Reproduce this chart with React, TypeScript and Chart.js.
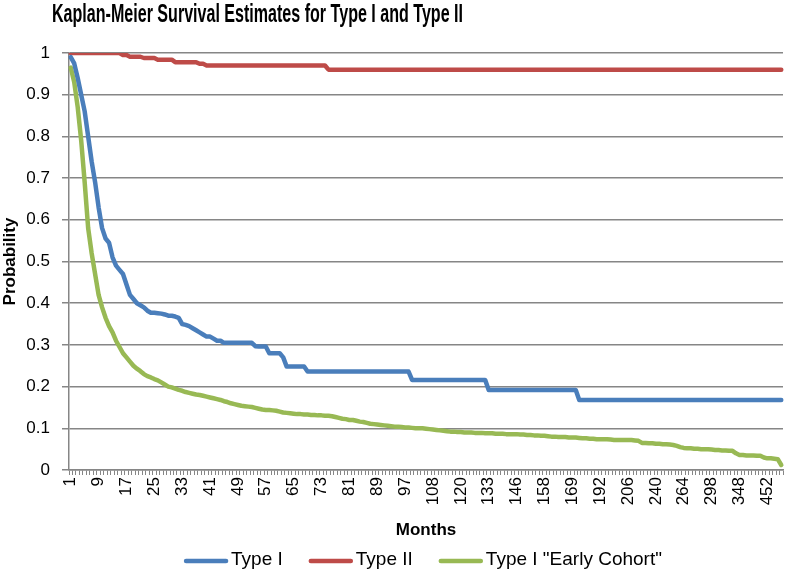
import { useEffect, useRef } from 'react';
import { Chart, registerables } from 'chart.js';

Chart.register(...registerables);

const TITLE = 'Kaplan-Meier Survival Estimates for Type I and Type II';
const X_TITLE = 'Months';
const Y_TITLE = 'Probability';
const SERIES_NAMES = ['Type I', 'Type II', 'Type I "Early Cohort"'];
const SERIES_COLORS = ['#4a7ebb', '#be4b48', '#98b954'];

const months = [
  1, 2, 3, 4, 5, 6, 7, 8, 9, 10,
  11, 12, 13, 14, 15, 16, 17, 18, 19, 20,
  21, 22, 23, 24, 25, 26, 27, 28, 29, 30,
  31, 32, 33, 34, 35, 36, 37, 38, 39, 40,
  41, 42, 43, 44, 45, 46, 47, 48, 49, 50,
  51, 52, 53, 54, 55, 56, 57, 58, 59, 60,
  61, 62, 63, 64, 65, 66, 67, 68, 69, 70,
  71, 72, 73, 74, 75, 76, 77, 78, 79, 80,
  81, 82, 83, 84, 85, 86, 87, 88, 89, 90,
  91, 92, 93, 94, 95, 96, 97, 98, 99, 101,
  102, 104, 105, 107, 108, 109, 111, 112, 114, 115,
  117, 118, 120, 121, 123, 125, 126, 128, 130, 131,
  133, 135, 136, 138, 140, 141, 143, 144, 146, 147,
  149, 150, 152, 153, 155, 156, 158, 159, 161, 162,
  163, 165, 166, 168, 169, 172, 175, 178, 180, 183,
  186, 189, 192, 193, 195, 197, 199, 200, 202, 204,
  206, 210, 214, 219, 223, 227, 231, 236, 240, 243,
  246, 249, 252, 255, 258, 261, 264, 268, 272, 276,
  281, 285, 289, 294, 298, 304, 310, 316, 323, 329,
  335, 342, 348, 361, 374, 387, 400, 413, 426, 439,
  452, 467, 481, 495, 510,
];

const typeI = [
  0.99, 0.975, 0.94, 0.9, 0.86, 0.8, 0.74, 0.69, 0.63, 0.58,
  0.555, 0.545, 0.51, 0.49, 0.48, 0.47, 0.445, 0.42, 0.41, 0.4,
  0.395, 0.39, 0.382, 0.377, 0.377, 0.376, 0.375, 0.373, 0.37, 0.37,
  0.368, 0.365, 0.35, 0.348, 0.345, 0.34, 0.335, 0.33, 0.325, 0.32,
  0.32, 0.315, 0.31, 0.31, 0.305, 0.305, 0.305, 0.305, 0.305, 0.305,
  0.305, 0.305, 0.305, 0.297, 0.296, 0.296, 0.296, 0.28, 0.28, 0.28,
  0.28, 0.27, 0.248, 0.248, 0.248, 0.248, 0.248, 0.248, 0.236, 0.236,
  0.236, 0.236, 0.236, 0.236, 0.236, 0.236, 0.236, 0.236, 0.236, 0.236,
  0.236, 0.236, 0.236, 0.236, 0.236, 0.236, 0.236, 0.236, 0.236, 0.236,
  0.236, 0.236, 0.236, 0.236, 0.236, 0.236, 0.236, 0.236, 0.216, 0.216,
  0.216, 0.216, 0.216, 0.216, 0.216, 0.216, 0.216, 0.216, 0.216, 0.216,
  0.216, 0.216, 0.216, 0.216, 0.216, 0.216, 0.216, 0.216, 0.216, 0.216,
  0.192, 0.192, 0.192, 0.192, 0.192, 0.192, 0.192, 0.192, 0.192, 0.192,
  0.192, 0.192, 0.192, 0.192, 0.192, 0.192, 0.192, 0.192, 0.192, 0.192,
  0.192, 0.192, 0.192, 0.192, 0.192, 0.192, 0.168, 0.168, 0.168, 0.168,
  0.168, 0.168, 0.168, 0.168, 0.168, 0.168, 0.168, 0.168, 0.168, 0.168,
  0.168, 0.168, 0.168, 0.168, 0.168, 0.168, 0.168, 0.168, 0.168, 0.168,
  0.168, 0.168, 0.168, 0.168, 0.168, 0.168, 0.168, 0.168, 0.168, 0.168,
  0.168, 0.168, 0.168, 0.168, 0.168, 0.168, 0.168, 0.168, 0.168, 0.168,
  0.168, 0.168, 0.168, 0.168, 0.168, 0.168, 0.168, 0.168, 0.168, 0.168,
  0.168, 0.168, 0.168, 0.168, 0.168,
];

const typeII = [
  1, 1, 1, 1, 1, 1, 1, 1, 1, 1,
  1, 1, 1, 1, 1, 0.995, 0.995, 0.991, 0.991, 0.991,
  0.991, 0.988, 0.988, 0.988, 0.988, 0.984, 0.984, 0.984, 0.984, 0.984,
  0.978, 0.978, 0.978, 0.978, 0.978, 0.978, 0.978, 0.974, 0.974, 0.97,
  0.97, 0.97, 0.97, 0.97, 0.97, 0.97, 0.97, 0.97, 0.97, 0.97,
  0.97, 0.97, 0.97, 0.97, 0.97, 0.97, 0.97, 0.97, 0.97, 0.97,
  0.97, 0.97, 0.97, 0.97, 0.97, 0.97, 0.97, 0.97, 0.97, 0.97,
  0.97, 0.97, 0.97, 0.97, 0.96, 0.96, 0.96, 0.96, 0.96, 0.96,
  0.96, 0.96, 0.96, 0.96, 0.96, 0.96, 0.96, 0.96, 0.96, 0.96,
  0.96, 0.96, 0.96, 0.96, 0.96, 0.96, 0.96, 0.96, 0.96, 0.96,
  0.96, 0.96, 0.96, 0.96, 0.96, 0.96, 0.96, 0.96, 0.96, 0.96,
  0.96, 0.96, 0.96, 0.96, 0.96, 0.96, 0.96, 0.96, 0.96, 0.96,
  0.96, 0.96, 0.96, 0.96, 0.96, 0.96, 0.96, 0.96, 0.96, 0.96,
  0.96, 0.96, 0.96, 0.96, 0.96, 0.96, 0.96, 0.96, 0.96, 0.96,
  0.96, 0.96, 0.96, 0.96, 0.96, 0.96, 0.96, 0.96, 0.96, 0.96,
  0.96, 0.96, 0.96, 0.96, 0.96, 0.96, 0.96, 0.96, 0.96, 0.96,
  0.96, 0.96, 0.96, 0.96, 0.96, 0.96, 0.96, 0.96, 0.96, 0.96,
  0.96, 0.96, 0.96, 0.96, 0.96, 0.96, 0.96, 0.96, 0.96, 0.96,
  0.96, 0.96, 0.96, 0.96, 0.96, 0.96, 0.96, 0.96, 0.96, 0.96,
  0.96, 0.96, 0.96, 0.96, 0.96, 0.96, 0.96, 0.96, 0.96, 0.96,
  0.96, 0.96, 0.96, 0.96, 0.96,
];

const typeIEarly = [
  0.965, 0.93, 0.87, 0.79, 0.69, 0.58, 0.52, 0.47, 0.42, 0.39,
  0.365, 0.345, 0.33, 0.31, 0.295, 0.28, 0.27, 0.26, 0.25, 0.243,
  0.237, 0.23, 0.225, 0.222, 0.218, 0.215, 0.21, 0.205, 0.2, 0.198,
  0.195, 0.192, 0.19, 0.187, 0.185, 0.183, 0.181, 0.18, 0.178, 0.176,
  0.174, 0.172, 0.17, 0.168, 0.165, 0.163, 0.16, 0.158, 0.156, 0.154,
  0.153, 0.152, 0.151, 0.149, 0.147, 0.145, 0.144, 0.144, 0.143, 0.142,
  0.14, 0.138, 0.137, 0.136, 0.135, 0.134, 0.134, 0.133, 0.133, 0.132,
  0.132, 0.131, 0.131, 0.13, 0.13, 0.129, 0.127, 0.125, 0.123, 0.122,
  0.12, 0.12, 0.118, 0.116, 0.115, 0.113, 0.111, 0.11, 0.109, 0.108,
  0.107, 0.106, 0.105, 0.104, 0.104, 0.103, 0.102, 0.102, 0.101, 0.1,
  0.1, 0.1, 0.099, 0.098, 0.097, 0.096, 0.095, 0.094, 0.093, 0.092,
  0.092, 0.091, 0.091, 0.09, 0.09, 0.09, 0.089, 0.089, 0.089, 0.088,
  0.088, 0.088, 0.087, 0.087, 0.087, 0.086, 0.086, 0.086, 0.086, 0.085,
  0.085, 0.084, 0.084, 0.083, 0.083, 0.082, 0.082, 0.081, 0.08, 0.08,
  0.079, 0.079, 0.079, 0.078, 0.078, 0.078, 0.077, 0.076, 0.076, 0.075,
  0.075, 0.074, 0.074, 0.074, 0.074, 0.073, 0.072, 0.072, 0.072, 0.072,
  0.072, 0.072, 0.071, 0.07, 0.065, 0.065, 0.064, 0.064, 0.063, 0.063,
  0.062, 0.062, 0.061, 0.06, 0.058, 0.055, 0.053, 0.052, 0.052, 0.051,
  0.051, 0.05, 0.05, 0.05, 0.049, 0.048, 0.048, 0.047, 0.047, 0.046,
  0.046, 0.04, 0.036, 0.036, 0.035, 0.035, 0.035, 0.034, 0.034, 0.03,
  0.028, 0.028, 0.027, 0.026, 0.012,
];

const LABEL_EVERY = 8;
const GRID = '#868686';
const TICK_FONT = '"Liberation Sans", Arial, sans-serif';

const titlePlugin = {
  id: 'kmTitle',
  afterDraw(chart: any) {
    const ctx = chart.ctx;
    ctx.save();
    ctx.font = 'bold 25px "Liberation Sans Narrow", "Liberation Sans", Arial, sans-serif';
    const w = ctx.measureText(TITLE).width;
    const target = 411;
    ctx.translate(257.5, 22);
    ctx.scale(target / w, 1);
    ctx.textAlign = 'center';
    ctx.textBaseline = 'alphabetic';
    ctx.fillStyle = '#000';
    ctx.fillText(TITLE, 0, 0);
    ctx.restore();
  },
};

const legendPlugin = {
  id: 'kmLegend',
  afterDraw(chart: any) {
    const ctx = chart.ctx;
    ctx.save();
    ctx.font = '19px "Liberation Sans", Arial, sans-serif';
    const items = chart.data.datasets.map((ds: any) => ({
      label: ds.label,
      color: ds.borderColor,
      w: ctx.measureText(ds.label).width,
    }));
    const seg = 44;
    const gapA = 3;
    const gapB = 26;
    const total =
      items.reduce((s: number, it: any) => s + seg + gapA + it.w, 0) + gapB * (items.length - 1);
    let x = (chart.chartArea.left + chart.chartArea.right) / 2 - total / 2 - 3;
    const yLine = chart.height - 14;
    const yText = chart.height - 10;
    items.forEach((it: any) => {
      ctx.strokeStyle = it.color;
      ctx.lineWidth = 4.5;
      ctx.lineCap = 'round';
      ctx.beginPath();
      ctx.moveTo(x + 2, yLine);
      ctx.lineTo(x + seg - 2, yLine);
      ctx.stroke();
      x += seg + gapA;
      ctx.fillStyle = '#000';
      ctx.textAlign = 'left';
      ctx.textBaseline = 'alphabetic';
      ctx.fillText(it.label, x, yText);
      x += it.w + gapB;
    });
    ctx.restore();
  },
};

export default function App() {
  const ref = useRef<HTMLCanvasElement | null>(null);

  useEffect(() => {
    document.body.style.margin = '0';
    const canvas = ref.current;
    if (!canvas) return;
    const seriesData = [typeI, typeII, typeIEarly];
    const chart = new Chart(canvas, {
      type: 'line',
      data: {
        labels: months.map(String),
        datasets: seriesData.map((d, i) => ({
          label: SERIES_NAMES[i],
          data: d,
          borderColor: SERIES_COLORS[i],
          backgroundColor: SERIES_COLORS[i],
          borderWidth: 4.5,
          pointRadius: 0,
          pointHoverRadius: 0,
          tension: 0,
          fill: false,
          borderJoinStyle: 'round',
          borderCapStyle: 'round',
        })),
      },
      options: {
        animation: false,
        responsive: false,
        devicePixelRatio: 1,
        layout: { padding: { top: 53, right: 4, bottom: 30, left: 0 } },
        plugins: {
          legend: { display: false },
          title: { display: false },
          tooltip: { enabled: false },
        },
        scales: {
          x: {
            type: 'category',
            offset: true,
            ticks: {
              autoSkip: false,
              minRotation: 90,
              maxRotation: 90,
              padding: 2,
              color: '#000',
              font: { family: TICK_FONT, size: 17 },
              callback: (_v: any, i: number) => (i % LABEL_EVERY === 0 ? String(months[i]) : ''),
            },
            grid: {
              display: true,
              drawOnChartArea: false,
              drawTicks: true,
              tickLength: 5,
              color: GRID,
              offset: true,
            },
            border: { display: true, color: GRID, width: 1.5 },
            title: {
              display: true,
              text: X_TITLE,
              color: '#000',
              font: { family: TICK_FONT, size: 17, weight: 'bold' },
              padding: { top: 0, bottom: 4.4 },
            },
            afterFit: (s: any) => {
              s.height = 75;
              s.paddingLeft = 0;
              s.paddingRight = 0;
            },
          },
          y: {
            min: 0,
            max: 1,
            ticks: {
              stepSize: 0.1,
              color: '#000',
              padding: 12,
              font: { family: TICK_FONT, size: 17 },
              callback: (v: any) => String(Number(Number(v).toFixed(1))),
            },
            grid: { color: GRID, lineWidth: 1.5, tickLength: 7, drawTicks: true },
            border: { display: true, color: GRID, width: 1.5 },
            title: {
              display: true,
              text: Y_TITLE,
              color: '#000',
              font: { family: TICK_FONT, size: 17, weight: 'bold' },
              padding: { top: 0, bottom: 0 },
            },
            afterFit: (s: any) => {
              s.width = 69;
            },
          },
        },
      } as any,
      plugins: [titlePlugin, legendPlugin],
    });
    return () => chart.destroy();
  }, []);

  return (
    <div style={{ width: 787, height: 575 }}>
      <canvas ref={ref} width={787} height={575} style={{ display: 'block' }} />
    </div>
  );
}
